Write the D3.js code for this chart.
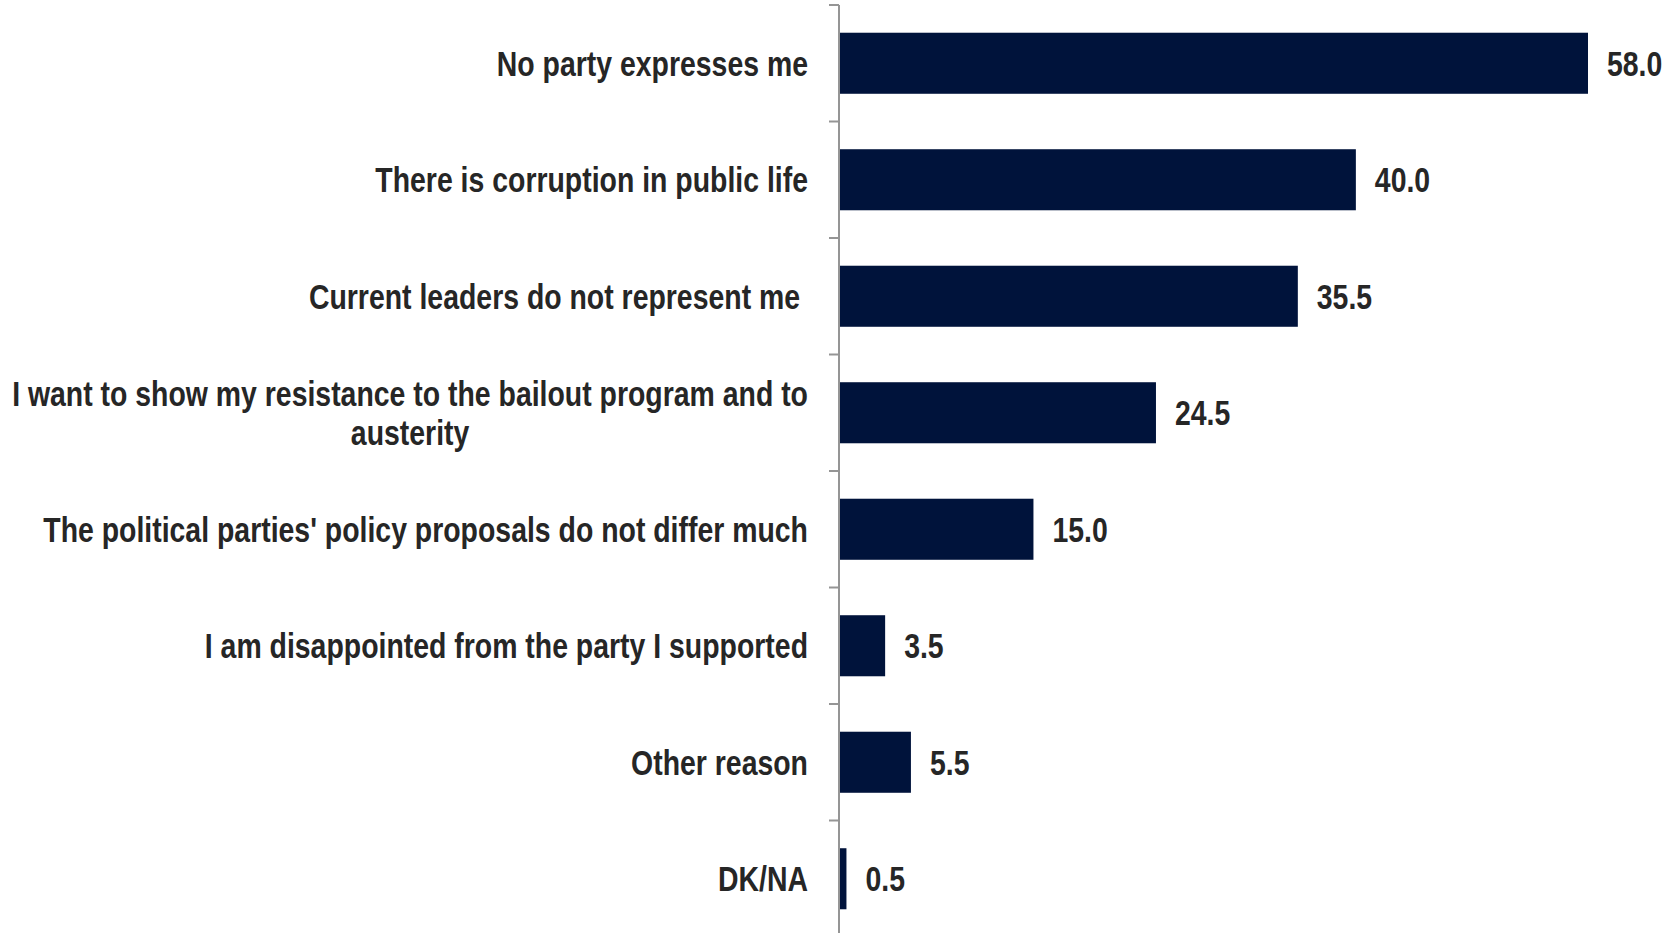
<!DOCTYPE html>
<html>
<head>
<meta charset="utf-8">
<script src="https://cdn.jsdelivr.net/npm/d3@7"></script>
<style>
  html, body { margin: 0; padding: 0; background: #ffffff; }
  svg { display: block; }
  text { font-family: "Liberation Sans", Arial, sans-serif; font-weight: bold; fill: #262626; }
</style>
</head>
<body>
<svg id="chart" width="1680" height="933"></svg>
<script>
const categories = [
  ["No party expresses me"],
  ["There is corruption in public life"],
  ["Current leaders do not represent me "],
  ["I want to show my resistance to the bailout program and to", "austerity"],
  ["The political parties' policy proposals do not differ much"],
  ["I am disappointed from the party I supported"],
  ["Other reason"],
  ["DK/NA"]
];
const values = [58.0, 40.0, 35.5, 24.5, 15.0, 3.5, 5.5, 0.5];
const valueLabels = ["58.0", "40.0", "35.5", "24.5", "15.0", "3.5", "5.5", "0.5"];

const svg = d3.select("#chart");
const axisX = 839;
const barX0 = 840;
const pInner = 0.476;
const narrow = 0.812; // horizontal condensation to mimic a narrow typeface

const keys = categories.map((c, i) => i);
const y = d3.scaleBand()
  .domain(keys)
  .range([5, 937])
  .paddingInner(pInner)
  .paddingOuter(pInner / 2);

const x = d3.scaleLinear().domain([0, 58]).range([barX0, 1588]);

function condense(sel) {
  sel.each(function () {
    const w = this.getComputedTextLength();
    d3.select(this).attr("textLength", w * narrow).attr("lengthAdjust", "spacingAndGlyphs");
  });
}

// bars
svg.selectAll("rect.bar")
  .data(values)
  .join("rect")
  .attr("class", "bar")
  .attr("x", x(0))
  .attr("y", (d, i) => y(i))
  .attr("width", d => x(d) - x(0))
  .attr("height", y.bandwidth())
  .attr("fill", "#00133b");

// axis line and ticks at band boundaries
const step = y.step();
const boundaries = keys.map(i => y(i) - step * pInner / 2);
svg.append("line")
  .attr("x1", axisX).attr("x2", axisX)
  .attr("y1", boundaries[0]).attr("y2", 933)
  .attr("stroke", "#959595").attr("stroke-width", 2);
svg.selectAll("line.tick")
  .data(boundaries)
  .join("line")
  .attr("class", "tick")
  .attr("x1", axisX - 10).attr("x2", axisX)
  .attr("y1", d => d).attr("y2", d => d)
  .attr("stroke", "#959595").attr("stroke-width", 2);

// category labels
const fontSize = 35;
const lineH = 39;
const labelRight = 808;
categories.forEach((lines, i) => {
  const cy = y(i) + y.bandwidth() / 2;
  const g = svg.append("g");
  const texts = lines.map((ln, j) => g.append("text")
    .attr("font-size", fontSize)
    .style("white-space", "pre")
    .attr("dominant-baseline", "central")
    .attr("text-anchor", "middle")
    .attr("y", cy + (j - (lines.length - 1) / 2) * lineH)
    .text(ln));
  texts.forEach(t => condense(t));
  const maxW = d3.max(texts, t => +t.attr("textLength"));
  texts.forEach(t => t.attr("x", labelRight - maxW / 2));
});

// value labels
svg.selectAll("text.val")
  .data(values)
  .join("text")
  .attr("class", "val")
  .attr("font-size", fontSize)
  .attr("dominant-baseline", "central")
  .attr("x", d => x(d) + 19)
  .attr("y", (d, i) => y(i) + y.bandwidth() / 2)
  .text((d, i) => valueLabels[i])
  .call(condense);
</script>
</body>
</html>
